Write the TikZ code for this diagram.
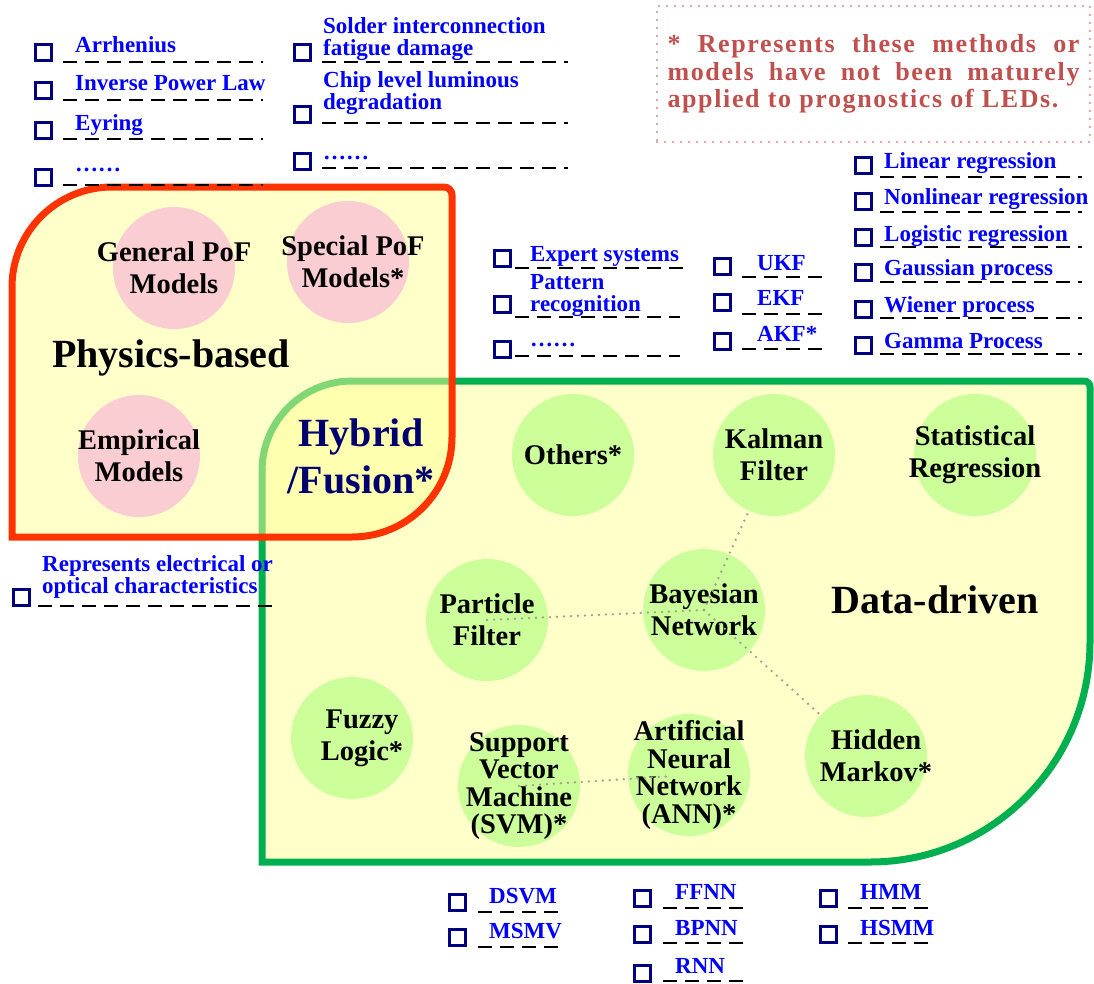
\documentclass[tikz,border=0pt]{standalone}
\usepackage{fontspec}
\setmainfont{Liberation Serif}
\newfontfamily\notefont[LetterSpace=6.3]{Liberation Serif}
\usetikzlibrary{positioning}
\definecolor{navybox}{RGB}{0,0,128}
\definecolor{itemblue}{RGB}{0,0,255}
\definecolor{phyred}{RGB}{255,51,0}
\definecolor{datagreen}{RGB}{0,176,80}
\definecolor{fillyellow}{RGB}{255,255,150}
\definecolor{pofpink}{RGB}{250,205,210}
\definecolor{bubgreen}{RGB}{204,255,153}
\definecolor{notered}{RGB}{192,80,77}
\definecolor{hybridnavy}{RGB}{0,0,110}
\definecolor{linkgray}{RGB}{160,160,140}
\newcommand{\entryfont}{\fontsize{23}{21.7}\selectfont\bfseries}
\newcommand{\bubfont}{\fontsize{28.5}{32}\selectfont\bfseries}
\newcommand{\lstitem}[7]{%
  \node[chkbox] (#1) at (#2) {};
  \node[entry] (#1-t) at (#3) {#7};
  \draw[uline] (#4,#6) -- (#5,#6);
}
\tikzset{
  chkbox/.style={draw=navybox, line width=3pt, minimum size=16pt, inner sep=0pt},
  entry/.style={text=itemblue, font=\entryfont, anchor=base west, align=left, inner sep=0pt},
  uline/.style={black, line width=2pt, dash pattern=on 14pt off 8pt},
  bubble/.style={circle, minimum size=122pt, inner sep=-20pt, font=\bubfont, align=center},
  pof/.style={bubble, fill=pofpink},
  ddm/.style={bubble, fill=bubgreen},
  tight/.style={font=\fontsize{28.5}{27.5}\selectfont\bfseries},
  link/.style={linkgray, line width=2.6pt, dash pattern=on 0pt off 7pt, line cap=round},
  region/.style={font=\fontsize{40}{47}\selectfont\bfseries, align=center},
  notebox/.style={draw=notered, line width=1.6pt, dash pattern=on 0pt off 8pt, line cap=round,
    minimum width=433pt, minimum height=136pt, text=notered, align=left,
    font=\notefont\fontsize{26}{27.5}\selectfont\bfseries}
}
\begin{document}
\begin{tikzpicture}[x=1pt,y=-1pt]
\useasboundingbox (0,0) rectangle (1094,983);
% data-driven region
\draw[datagreen, line width=7pt, fill=fillyellow, fill opacity=.5] (262,862) -- (262,471) arc(180:270:90)
  -- (1084,381) arc(270:360:6) -- (1090,642) arc(0:90:220) -- cycle;
% physics-based region
\path[fill=fillyellow, fill opacity=.5, draw=phyred, line width=7pt] (12,537) -- (12,287) arc(180:270:100)
  -- (444,187) arc(270:360:8) -- (452,437) arc(0:90:100) -- cycle;
\node[region] (phys) at (171,358) {Physics-based};
\node[region] (data) at (935,600) {Data-driven};
\node[region, text=hybridnavy] (hybrid) at (361,456) {Hybrid\\/Fusion*};
% model bubbles
\node[pof] (gpof) at (174,268) {General PoF\\Models};
\node[pof] (spof) at (348,262) {\hspace*{10pt}Special PoF\\\hspace*{10pt}Models*};
\node[pof] (emp) at (139,456) {Empirical\\Models};
\node[ddm] (others) at (573,455) {Others*};
\node[ddm] (kalman) at (774,455) {Kalman\\Filter};
\node[ddm] (stat) at (975,455) {Statistical\\Regression};
\node[ddm] (particle) at (487,620) {Particle\\Filter};
\node[ddm] (bayes) at (704,610) {Bayesian\\Network};
\node[ddm] (fuzzy) at (352,738) {\hspace*{20pt}Fuzzy\\\hspace*{20pt}Logic*};
\node[ddm, tight] (svm) at (519,786) {Support\\Vector\\Machine\\(SVM)*};
\node[ddm, tight] (ann) at (689,775) {Artificial\\Neural\\Network\\(ANN)*};
\node[ddm] (hmm) at (866,756) {\hspace*{20pt}Hidden\\\hspace*{20pt}Markov*};
\draw[link] (particle.center) -- (bayes.center);
\draw[link] (bayes.center) -- (kalman);
\draw[link] (bayes.center) -- (hmm);
\draw[link, shorten >=20pt] (svm.center) -- (ann.center);
% note
\node[notebox] (note) at (873.5,74) {\makebox[412pt][s]{* Represents these methods or}\\
  \makebox[412pt][s]{models have not been maturely}\\applied to prognostics of LEDs.};
% physics-based lists
\lstitem{arr}{43,52}{75,52}{63}{263}{62}{Arrhenius}
\lstitem{ipl}{43,90}{75,90}{63}{263}{100}{Inverse Power Law}
\lstitem{eyr}{43,130}{75,130}{63}{263}{139}{Eyring}
\lstitem{pmore}{43,177}{75,171}{63}{263}{185}{……}
\lstitem{sol}{302,52}{323,55}{322}{568}{62}{Solder interconnection\\fatigue damage}
\lstitem{chip}{302,114}{323,109}{322}{568}{123}{Chip level luminous\\degradation}
\lstitem{smore}{302,161}{323,159}{322}{568}{168}{……}
\lstitem{elec}{21,597}{42,593}{38}{278}{606}{Represents electrical or\\optical characteristics}
% data-driven lists
\lstitem{lin}{863,165}{884,168}{880}{1082}{177}{Linear regression}
\lstitem{nlin}{863,201}{884,204}{880}{1082}{212}{Nonlinear regression}
\lstitem{logi}{863,237}{884,241}{880}{1082}{247}{Logistic regression}
\lstitem{gau}{863,272}{884,275}{880}{1082}{282}{Gaussian process}
\lstitem{wie}{863,309}{884,312}{880}{1082}{318}{Wiener process}
\lstitem{gam}{863,345}{884,348}{880}{1082}{354}{Gamma Process}
\lstitem{expt}{502,258}{530,261}{515}{687}{268}{Expert systems}
\lstitem{pat}{502,304}{530,311}{515}{680}{317}{Pattern\\recognition}
\lstitem{mmore}{502,349}{530,346}{515}{680}{356}{……}
\lstitem{ukf}{722,266}{757,270}{742}{825}{277}{UKF}
\lstitem{ekf}{722,302}{757,305}{742}{825}{314}{EKF}
\lstitem{akf}{722,341}{757,341}{742}{825}{349}{AKF*}
\lstitem{dsvm}{457,902}{489,903}{478}{562}{912}{DSVM}
\lstitem{msmv}{457,937}{489,938}{478}{562}{947}{MSMV}
\lstitem{ffnn}{642,898}{675,899}{663}{747}{908}{FFNN}
\lstitem{bpnn}{642,934}{675,935}{663}{747}{943}{BPNN}
\lstitem{rnn}{642,973}{675,973}{663}{747}{981}{RNN}
\lstitem{hmmv}{828,898}{860,899}{848}{932}{908}{HMM}
\lstitem{hsmm}{828,934}{860,935}{848}{932}{943}{HSMM}
\end{tikzpicture}
\end{document}
